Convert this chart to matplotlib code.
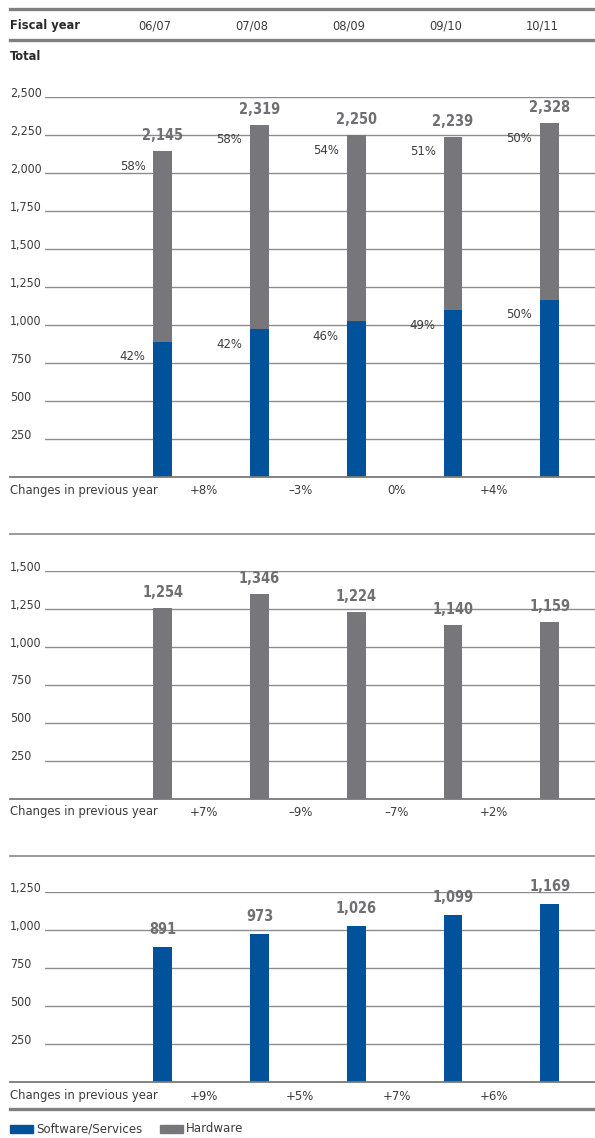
import numpy as np
import matplotlib
matplotlib.use("Agg")
import matplotlib.pyplot as plt
from matplotlib import transforms
from matplotlib import font_manager as fm
from matplotlib.lines import Line2D
from matplotlib.patches import Rectangle

# pick a narrow font if one is installed, else fall back to a normal one
narrow = [f for f in fm.fontManager.ttflist
          if f.stretch in ('condensed', 'semi-condensed', 'extra-condensed')
          or 'Narrow' in f.name or 'Condensed' in f.name]
if narrow:
    fam = narrow[0].name
    plt.rcParams['font.stretch'] = 'condensed'
else:
    fam = 'Roboto'
plt.rcParams['font.family'] = [fam, 'DejaVu Sans']

# data
years = ['06/07', '07/08', '08/09', '09/10', '10/11']
software = [891, 973, 1026, 1099, 1169]
hardware = [1254, 1346, 1224, 1140, 1159]
total = [2145, 2319, 2250, 2239, 2328]
hw_share = ['58%', '58%', '54%', '51%', '50%']
sw_share = ['42%', '42%', '46%', '49%', '50%']
chg_total = ['+8%', '\u20133%', '0%', '+4%']
chg_hw = ['+7%', '\u20139%', '\u20137%', '+2%']
chg_sw = ['+9%', '+5%', '+7%', '+6%']
ticks_total = [250, 500, 750, 1000, 1250, 1500, 1750, 2000, 2250, 2500]
ticks_hw = [250, 500, 750, 1000, 1250, 1500]
ticks_sw = [250, 500, 750, 1000, 1250]

BLUE = '#00529b'
GREY = '#76767b'
TXT = '#3c3c3c'
LBL = '#6f6f74'

W, H = 595, 1138
fig = plt.figure(figsize=(W / 100, H / 100), dpi=100)


def fit(s, width_px, base, bold=False):
    # font size that gives the text the width it has in the original
    t = fig.text(0, 0, s, fontsize=base, fontweight='bold' if bold else 'normal')
    fig.canvas.draw()
    w = t.get_window_extent().width
    t.remove()
    return min(base * 1.15, base * width_px / w)


FS_TICK = fit('2,500', 32, 10.5)
FS_ROW = fit('Changes in previous year', 150, 10.5)
FS_PCT = fit('58%', 26, 10.5)
FS_CHG = FS_PCT
FS_VAL = fit('2,145', 41, 13, bold=True)
FS_HEAD = fit('Fiscal year', 70, 10.5, bold=True)
FS_YEAR = fit('06/07', 33, 10.5)
FS_LEG = fit('Software/Services', 107, 10.5)


def fx(px):
    return px / W


def fy(px):
    return 1 - px / H


def hline(y, x0=10, x1=595, lw=1.0, c='#8c8c8c'):
    fig.add_artist(Line2D([fx(x0), fx(x1)], [fy(y), fy(y)], lw=lw, color=c,
                          transform=fig.transFigure))


x = np.arange(len(years))
bw = 0.196
# pixel layout of the bar area
x0_px, step_px = 162.9, 96.7
xl = ((45 - x0_px) / step_px, (595 - x0_px) / step_px)


def panel(top_px, base_px, ymax, ticks):
    ax = fig.add_axes([fx(45), fy(base_px), fx(595) - fx(45), (base_px - top_px) / H])
    ax.set_xlim(*xl)
    ax.set_ylim(0, ymax)
    ax.axis('off')
    tr = transforms.blended_transform_factory(fig.transFigure, ax.transData)
    for t in ticks:
        ax.axhline(t, color='#8c8c8c', lw=1.0, zorder=0)
        fig.text(fx(10), t, f'{t:,}', transform=tr, fontsize=FS_TICK, color=TXT,
                 ha='left', va='baseline')
    hline(base_px, lw=1.3, c='#7a7a7a')
    return ax


def changes(ax, y_px, labels):
    tr = transforms.blended_transform_factory(ax.transData, fig.transFigure)
    fig.text(fx(10), fy(y_px), 'Changes in previous year', fontsize=FS_ROW,
             color=TXT, ha='left', va='center')
    for i, s in enumerate(labels):
        fig.text(i + 0.5 - 0.08, fy(y_px), s, transform=tr, fontsize=FS_CHG,
                 color=TXT, ha='center', va='center')


def values(ax, tops, off=8):
    for i, v in enumerate(tops):
        ax.annotate(f'{v:,}', (x[i], v), xytext=(0, off), textcoords='offset pixels',
                    ha='center', va='bottom', fontsize=FS_VAL, fontweight='bold',
                    color=LBL)


# header
hline(9, lw=2.4, c='#808080')
hline(40, lw=2.4, c='#808080')
fig.text(fx(10), fy(26), 'Fiscal year', fontsize=FS_HEAD, fontweight='bold',
         color='#2a2a2a', ha='left', va='center')
fig.text(fx(10), fy(56), 'Total', fontsize=FS_HEAD, fontweight='bold',
         color='#2a2a2a', ha='left', va='center')
for i, yr in enumerate(years):
    fig.text(fx(x0_px + step_px * (i - 0.08)), fy(26), yr, fontsize=FS_YEAR,
             color=TXT, ha='center', va='center')

# panel 1: total
ax1 = panel(97.3, 477.3, 2500, ticks_total)
ax1.bar(x, software, bw, color=BLUE, zorder=2)
ax1.bar(x, hardware, bw, bottom=software, color=GREY, zorder=2)
values(ax1, total)
for i in range(len(years)):
    ax1.annotate(hw_share[i], (x[i] - bw / 2, total[i]), xytext=(-8, -15),
                 textcoords='offset pixels', ha='right', va='center',
                 fontsize=FS_PCT, color=TXT)
    ax1.annotate(sw_share[i], (x[i] - bw / 2, software[i]), xytext=(-8, -15),
                 textcoords='offset pixels', ha='right', va='center',
                 fontsize=FS_PCT, color=TXT)
changes(ax1, 491, chg_total)
hline(534, lw=1.4, c='#9a9a9a')

# panel 2: hardware
ax2 = panel(570.5, 798.5, 1500, ticks_hw)
ax2.bar(x, hardware, bw, color=GREY, zorder=2)
values(ax2, hardware)
changes(ax2, 812, chg_hw)
hline(856, lw=1.4, c='#9a9a9a')

# panel 3: software/services
ax3 = panel(892, 1082, 1250, ticks_sw)
ax3.bar(x, software, bw, color=BLUE, zorder=2)
values(ax3, software, off=10)
changes(ax3, 1096, chg_sw)
hline(1109, lw=2.4, c='#808080')

# legend
for x_px, c, name in [(10, BLUE, 'Software/Services'), (160, GREY, 'Hardware')]:
    fig.add_artist(Rectangle((fx(x_px), fy(1133)), fx(23), 8 / H, color=c,
                             transform=fig.transFigure))
    fig.text(fx(x_px + 26), fy(1129), name, fontsize=FS_LEG, color=TXT,
             ha='left', va='center')

fig.savefig('out.png', dpi=100)
